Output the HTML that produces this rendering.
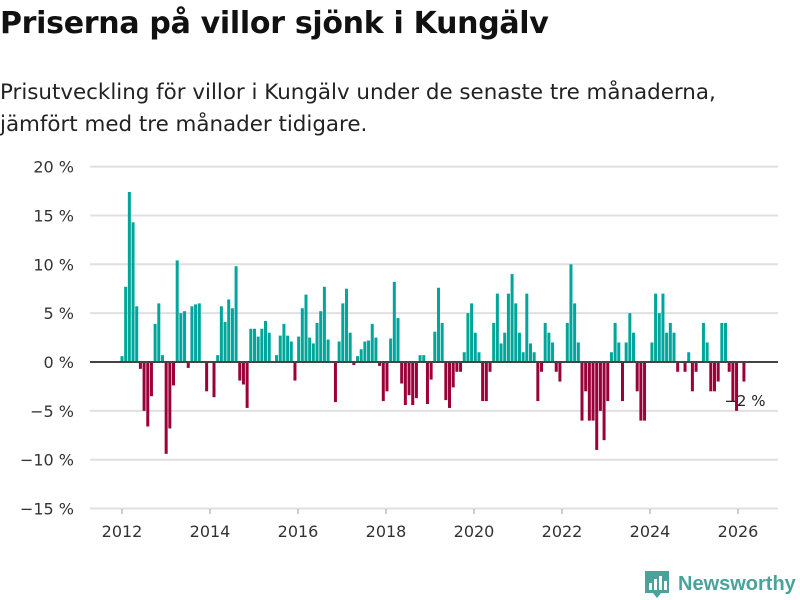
<!DOCTYPE html>
<html><head><meta charset="utf-8"><style>
body{margin:0;background:#fff;font-family:"DejaVu Sans",sans-serif;}
#wrap{position:relative;width:800px;height:600px;overflow:hidden;}
h1{position:absolute;left:0;top:6px;margin:0;font-size:30px;font-weight:bold;color:#111;letter-spacing:-0.3px}
#sub{position:absolute;left:0;top:77px;margin:0;font-size:21.4px;line-height:32px;color:#222}
</style></head><body>
<div id="wrap">
<h1>Priserna på villor sjönk i Kungälv</h1>
<p id="sub">Prisutveckling för villor i Kungälv under de senaste tre månaderna,<br>jämfört med tre månader tidigare.</p>
<svg id="chart" width="800" height="600" style="position:absolute;left:0;top:0"></svg>
</div>
<script>
const yTicks=[20,15,10,5,0,-5,-10,-15];
const yTickLabels=["20 %","15 %","10 %","5 %","0 %","−5 %","−10 %","−15 %"];
const xYears=[2012,2014,2016,2018,2020,2022,2024,2026];
const startYear=2012;
const values=[0.6,7.7,17.4,14.3,5.7,-0.7,-5.0,-6.6,-3.5,3.9,6.0,0.7,
-9.4,-6.8,-2.4,10.4,5.0,5.2,-0.6,5.7,5.9,6.0,0,-3.0,
0,-3.6,0.7,5.7,4.1,6.4,5.5,9.8,-1.9,-2.3,-4.7,3.4,
3.4,2.6,3.4,4.2,3.0,0,0.7,2.7,3.9,2.7,2.1,-1.9,
2.6,5.5,6.9,2.5,1.9,4.0,5.2,7.7,2.3,0,-4.1,2.1,
6.0,7.5,3.0,-0.3,0.6,1.3,2.1,2.2,3.9,2.5,-0.4,-4.0,
-3.0,2.4,8.2,4.5,-2.2,-4.4,-3.4,-4.4,-3.7,0.7,0.7,-4.3,
-1.8,3.1,7.6,4.0,-3.9,-4.7,-2.6,-1.0,-1.0,1.0,5.0,6.0,
3.0,1.0,-4.0,-4.0,-1.0,4.0,7.0,1.9,3.0,7.0,9.0,6.0,
3.0,1.0,7.0,1.9,1.0,-4.0,-1.0,4.0,3.0,2.0,-1.0,-2.0,
0,4.0,10.0,6.0,2.0,-6.0,-3.0,-6.0,-6.0,-9.0,-5.0,-8.0,
-4.0,1.0,4.0,2.0,-4.0,2.0,5.0,3.0,-3.0,-6.0,-6.0,0,
2.0,7.0,5.0,7.0,3.0,4.0,3.0,-1.0,0,-1.0,1.0,-3.0,
-1.0,0,4.0,2.0,-3.0,-3.0,-2.0,4.0,4.0,-1.0,-4.0,-5.0,
0,-2.0];
const lastLabel="−2 %";
const svg=document.getElementById('chart');
const NS='http://www.w3.org/2000/svg';
const X0=90,X1=778,Y0=362,K=9.77,PXY=44,XS=122,PXM=3.68;
function y(v){return Y0-v*K;}
function xYear(yr){return XS+(yr-startYear)*PXY;}
function xMonth(i){return XS+i*PXM;}
function mk(t,a){const e=document.createElementNS(NS,t);for(const k in a)e.setAttribute(k,a[k]);svg.appendChild(e);return e;}
yTicks.forEach((t,i)=>{
 if(t!==0){const g=mk('line',{x1:X0,x2:X1,y1:y(t),y2:y(t),stroke:'#e0e0e0','stroke-width':2});
 
 }
 const tx=mk('text',{x:74,y:y(t)+6,'text-anchor':'end','font-size':16,fill:'#333','font-family':'DejaVu Sans, sans-serif'});
 tx.textContent=yTickLabels[i];
 
 
});
xYears.forEach(yr=>{
 const tx=mk('text',{x:xYear(yr),y:537,'text-anchor':'middle','font-size':16,fill:'#333','font-family':'DejaVu Sans, sans-serif'});
 tx.textContent=yr;
 
 
 const tk=mk('line',{x1:xYear(yr),x2:xYear(yr),y1:509,y2:514,stroke:'#999','stroke-width':1});
 
 
});
values.forEach((v,i)=>{
 if(v===0)return;
 const x=xMonth(i)-1.5;
 const b=mk('rect',{x:x,width:3,y:Math.min(y(v),Y0),height:Math.abs(v*K),fill:v>0?'#00a59b':'#9b0039'});
 
 
});
const z=mk('line',{x1:X0,x2:X1,y1:Y0,y2:Y0,stroke:'#444','stroke-width':2});


const lt=mk('text',{x:xMonth(values.length-1)+1,y:406,'text-anchor':'middle','font-size':15,fill:'#222','font-family':'DejaVu Sans, sans-serif'});
lt.textContent=lastLabel;


const lg=mk('g',{});


const ic=document.createElementNS(NS,'path');ic.setAttribute('d','M645 571h24v22h-8l-4 5-4-5h-8z');ic.setAttribute('fill','#4aa39a');lg.appendChild(ic);
[[649,583,3,7],[654,579,3,11],[659,576,3,14],[664,581,3,9]].forEach(r=>{const e=document.createElementNS(NS,'rect');e.setAttribute('x',r[0]);e.setAttribute('y',r[1]);e.setAttribute('width',r[2]);e.setAttribute('height',r[3]);e.setAttribute('fill','#fff');lg.appendChild(e);});
const lt2=document.createElementNS(NS,'text');lt2.setAttribute('x',678);lt2.setAttribute('y',590);lt2.setAttribute('font-size',20);lt2.setAttribute('font-weight','bold');lt2.setAttribute('fill','#4aa39a');lt2.setAttribute('font-family','Liberation Sans, sans-serif');lt2.textContent='Newsworthy';lg.appendChild(lt2);
</script>
</body></html>
